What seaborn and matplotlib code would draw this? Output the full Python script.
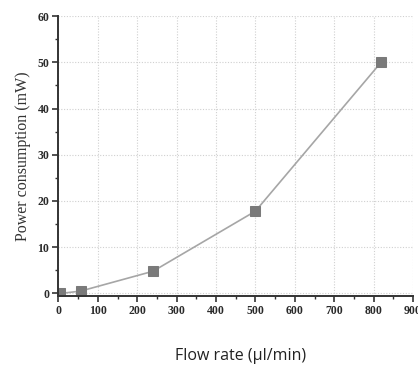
import matplotlib
matplotlib.use("Agg")
import matplotlib.pyplot as plt
import seaborn as sns
import pandas as pd
from matplotlib.ticker import MultipleLocator

flow_rate = [5, 56, 240, 500, 820]
power = [0.0, 0.5, 4.8, 17.8, 50.1]
x_ticks = [0, 100, 200, 300, 400, 500, 600, 700, 800, 900]
y_ticks = [0, 10, 20, 30, 40, 50, 60]

df = pd.DataFrame({"flow": flow_rate, "power": power})

sns.set_theme(style="white")
plt.rcParams['font.family'] = ['Liberation Serif', 'DejaVu Serif']

fig = plt.figure(figsize=(4.18, 3.74), dpi=100)
ax = fig.add_axes([0.138, 0.208, 0.85, 0.749])

sns.lineplot(data=df, x="flow", y="power", ax=ax, color="#a6a6a6", linewidth=1.2,
             marker="s", markersize=6.5, markerfacecolor="#7a7a7a", markeredgecolor="#7a7a7a")

ax.set_xlim(-2, 900)
ax.set_ylim(-0.6, 60)
ax.set_xticks(x_ticks)
ax.set_yticks(y_ticks)
ax.xaxis.set_minor_locator(MultipleLocator(50))
ax.yaxis.set_minor_locator(MultipleLocator(5))
ax.grid(True, which="major", linestyle=(0, (1, 1.5)), color="#d0d0d0", linewidth=0.8)
for s in ["top", "right"]:
    ax.spines[s].set_visible(False)
for s in ["left", "bottom"]:
    ax.spines[s].set_color("#333333")
    ax.spines[s].set_linewidth(1.4)
ax.tick_params(which="major", direction="out", length=4, width=1.2, colors="#333333",
               labelsize=8.5, labelcolor="#2a2a2a", bottom=True, left=True, pad=2)
ax.tick_params(which="minor", direction="out", length=2.5, width=1.0, colors="#333333",
               bottom=True, left=True)
for lab in ax.get_xticklabels() + ax.get_yticklabels():
    lab.set_fontweight("bold")

ax.set_xlabel("")
ax.set_ylabel("Power consumption (mW)", fontsize=11.5, color="#333333", labelpad=5)
fig.text(0.575, 0.048, "Flow rate (\u03bcl/min)", fontsize=11.5, family=["Open Sans", "DejaVu Sans"],
         color="#222222", ha="center", va="center")

fig.savefig("out.png", dpi=100)
